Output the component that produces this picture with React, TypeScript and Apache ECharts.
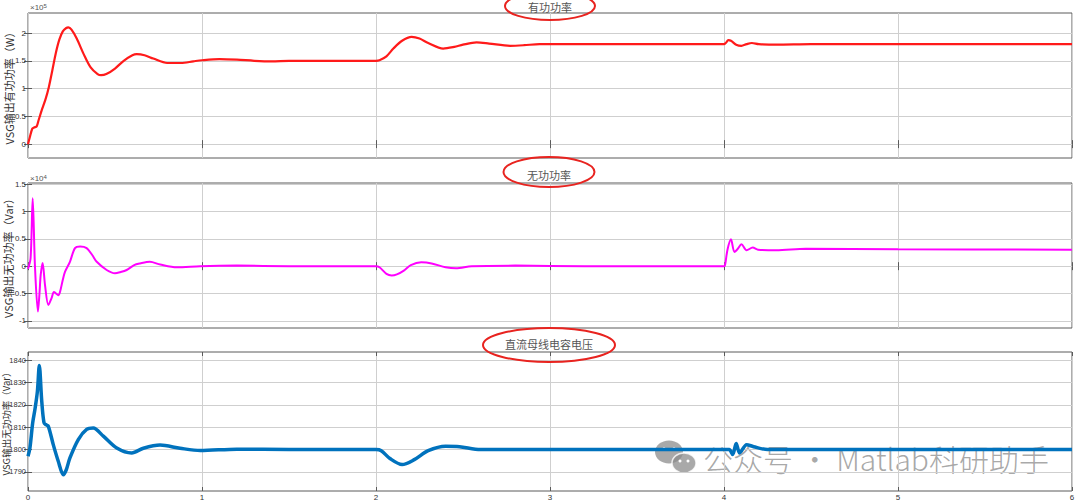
import React, { useEffect, useRef } from "react";
import * as echarts from "echarts";

// ---- Data ----
// Active power, units of 1e5 W
const activeT = [0, 0.01, 0.025, 0.035, 0.05, 0.06, 0.08, 0.1, 0.12, 0.14, 0.16, 0.18, 0.2, 0.22, 0.232, 0.25, 0.28, 0.32, 0.36, 0.4, 0.42, 0.45, 0.5, 0.55, 0.6, 0.625, 0.67, 0.72, 0.8, 0.88, 0.95, 1.0, 1.1, 1.2, 1.3, 1.4, 1.5, 1.7, 2.0, 2.02, 2.06, 2.1, 2.15, 2.205, 2.25, 2.3, 2.386, 2.45, 2.5, 2.578, 2.65, 2.77, 2.85, 2.94, 3.2, 3.6, 4.0, 4.01, 4.025, 4.04, 4.07, 4.1, 4.13, 4.16, 4.2, 4.3, 4.5, 5, 6];
const activeV = [0, 0.12, 0.28, 0.3, 0.32, 0.42, 0.62, 0.8, 1.03, 1.33, 1.64, 1.88, 2.03, 2.09, 2.1, 2.06, 1.9, 1.62, 1.38, 1.26, 1.24, 1.26, 1.36, 1.5, 1.6, 1.62, 1.6, 1.54, 1.46, 1.46, 1.49, 1.51, 1.53, 1.52, 1.5, 1.49, 1.5, 1.5, 1.5, 1.51, 1.58, 1.72, 1.86, 1.93, 1.9, 1.82, 1.72, 1.75, 1.79, 1.83, 1.81, 1.77, 1.78, 1.8, 1.8, 1.8, 1.8, 1.82, 1.87, 1.86, 1.79, 1.77, 1.8, 1.82, 1.8, 1.79, 1.8, 1.8, 1.8];

// Reactive power, units of 1e4 Var
const reactiveT = [0, 0.015, 0.027, 0.04, 0.057, 0.066, 0.073, 0.084, 0.098, 0.117, 0.136, 0.149, 0.161, 0.174, 0.184, 0.2, 0.213, 0.241, 0.27, 0.3, 0.337, 0.37, 0.395, 0.452, 0.5, 0.53, 0.567, 0.61, 0.644, 0.7, 0.76, 0.855, 0.99, 1.2, 1.5, 2.0, 2.02, 2.06, 2.09, 2.12, 2.16, 2.2, 2.26, 2.32, 2.4, 2.46, 2.55, 2.8, 3.2, 4.0, 4.006, 4.02, 4.04, 4.06, 4.08, 4.1, 4.13, 4.165, 4.196, 4.3, 4.47, 5, 6];
const reactiveV = [-0.05, 0.15, 1.24, 0.0, -0.83, -0.5, -0.16, 0.06, -0.35, -0.71, -0.58, -0.47, -0.5, -0.53, -0.47, -0.25, -0.1, 0.08, 0.33, 0.36, 0.33, 0.2, 0.08, -0.07, -0.13, -0.11, -0.07, 0.02, 0.05, 0.08, 0.03, -0.02, 0.0, 0.01, 0.0, 0.0, -0.02, -0.14, -0.17, -0.15, -0.08, 0.02, 0.07, 0.05, -0.02, -0.04, 0.0, 0.01, 0.0, 0.0, 0.02, 0.3, 0.49, 0.26, 0.32, 0.4, 0.29, 0.34, 0.3, 0.29, 0.32, 0.31, 0.3];

// DC bus capacitor voltage
const voltageT = [0, 0.011, 0.027, 0.04, 0.054, 0.065, 0.079, 0.092, 0.105, 0.117, 0.146, 0.174, 0.203, 0.22, 0.241, 0.289, 0.337, 0.375, 0.433, 0.51, 0.596, 0.663, 0.759, 0.874, 0.99, 1.2, 1.5, 2.0, 2.03, 2.08, 2.15, 2.22, 2.3, 2.4, 2.48, 2.6, 3, 4, 4.03, 4.05, 4.07, 4.09, 4.13, 4.17, 4.25, 5, 6];
const voltageV = [1797, 1800.7, 1812, 1818, 1826, 1837.6, 1821.6, 1812, 1811, 1810.4, 1802, 1794.8, 1788.8, 1791, 1796.3, 1804.5, 1809, 1809.6, 1806, 1800.7, 1798.5, 1800.6, 1802, 1800.6, 1799.6, 1800.2, 1800, 1800, 1799.5, 1796, 1793.3, 1795.5, 1799.5, 1801.5, 1801.3, 1800, 1800, 1800, 1800, 1797.8, 1802.7, 1798.5, 1802.2, 1801.3, 1800, 1800, 1800];

const xTicks = [0, 1, 2, 3, 4, 5, 6];
const activeTicks = [0, 0.5, 1, 1.5, 2];
const reactiveTicks = [-1, -0.5, 0, 0.5, 1, 1.5];
const voltageTicks = [1790, 1800, 1810, 1820, 1830, 1840];

const titles = ["有功功率", "无功功率", "直流母线电容电压"];
const yNames = ["VSG输出有功功率（W）", "VSG输出无功功率（Var）", "VSG输出无功功率（Var）"];

const zip = (t: number[], v: number[]) => t.map((x, i) => [x, v[i]]);

const FRAME = "#5a5a5a";
const GRIDC = "#cfcfcf";
const LABEL_FONT = "Liberation Sans";

export default function App() {
  const ref = useRef<HTMLDivElement>(null);
  useEffect(() => {
    if (!ref.current) return;
    const chart = echarts.init(ref.current, undefined, { renderer: "svg" });

    const grids = [
      { left: 28, right: 8, top: 13, height: 145 },
      { left: 28, right: 8, top: 183, height: 145 },
      { left: 28, right: 8, top: 352, height: 139 },
    ].map((g) => ({
      ...g,
      show: true,
      borderColor: FRAME,
      borderWidth: 1,
      backgroundColor: "transparent",
      containLabel: false,
      outerBoundsMode: "none",
    }));

    const yDefs = [
      { min: -0.25, max: 2.36, ticks: activeTicks, gap: 13.5, nameSize: 11, labelSize: 8 },
      { min: -1.13, max: 1.52, ticks: reactiveTicks, gap: 15, nameSize: 11, labelSize: 8 },
      { min: 1781.5, max: 1843.6, ticks: voltageTicks, gap: 17, nameSize: 9.5, labelSize: 7.5 },
    ];

    const xAxis: any[] = [];
    const yAxis: any[] = [];
    for (let i = 0; i < 3; i++) {
      for (const pos of ["bottom", "top"]) {
        xAxis.push({
          type: "value",
          gridIndex: i,
          position: pos,
          min: 0,
          max: 6,
          interval: 1,
          axisLine: { show: false },
          axisTick: { show: true, inside: true, length: 4, lineStyle: { color: FRAME } },
          axisLabel: {
            show: pos === "bottom" && i === 2,
            fontSize: 8,
            color: "#333",
            margin: 2,
            fontFamily: LABEL_FONT,
            customValues: xTicks,
            formatter: (v: number) => String(v),
          },
          splitLine: { show: pos === "bottom", lineStyle: { color: GRIDC, width: 1 } },
        });
      }
      const d = yDefs[i];
      for (const pos of ["left", "right"]) {
        yAxis.push({
          type: "value",
          gridIndex: i,
          position: pos,
          min: d.min,
          max: d.max,
          name: pos === "left" ? yNames[i] : "",
          nameLocation: "middle",
          nameGap: d.gap,
          nameMoveOverlap: false,
          nameTextStyle: { fontSize: d.nameSize, color: "#333", fontFamily: "Noto Sans CJK SC" },
          axisLine: { show: false },
          axisTick: { show: true, inside: true, length: 4, lineStyle: { color: FRAME }, customValues: d.ticks },
          axisLabel: {
            show: pos === "left",
            fontSize: d.labelSize,
            color: "#333",
            margin: 2,
            fontFamily: LABEL_FONT,
            customValues: d.ticks,
            formatter: (v: number) => String(v),
          },
          splitLine: { show: pos === "left", lineStyle: { color: GRIDC, width: 1 } },
        });
      }
    }

    const series = [
      { data: zip(activeT, activeV), color: "#ff1a1a", width: 2.2 },
      { data: zip(reactiveT, reactiveV), color: "#ff00ff", width: 2 },
      { data: zip(voltageT, voltageV), color: "#0072BD", width: 3.5 },
    ].map((s, i) => ({
      type: "line",
      xAxisIndex: i * 2,
      yAxisIndex: i * 2,
      data: s.data,
      showSymbol: false,
      smooth: 0.3,
      lineStyle: { color: s.color, width: s.width },
      itemStyle: { color: s.color },
      z: 3,
    }));

    const ellipse = (cx: number, cy: number, rx: number, ry: number) => ({
      type: "ellipse",
      shape: { cx, cy, rx, ry },
      style: { fill: "none", stroke: "#e8231f", lineWidth: 2 },
      z: 10,
    });
    const titleText = (x: number, y: number, text: string) => ({
      type: "text",
      x,
      y,
      style: {
        text,
        fill: "#555",
        fontSize: 11,
        fontFamily: "Noto Sans CJK SC",
        align: "center",
        verticalAlign: "middle",
      },
      z: 11,
    });
    const expText = (x: number, y: number, e: string) => ({
      type: "text",
      x,
      y,
      style: {
        text: "{a|×10}{b|" + e + "}",
        rich: {
          a: { fontSize: 8, fill: "#555", fontFamily: LABEL_FONT, verticalAlign: "bottom" },
          b: { fontSize: 6, fill: "#555", fontFamily: LABEL_FONT, verticalAlign: "top" },
        },
        verticalAlign: "middle",
      },
      z: 11,
    });

    const graphic: any[] = [
      ellipse(550, 6, 45, 14),
      titleText(550, 7, titles[0]),
      ellipse(549, 172, 45.5, 15),
      titleText(549, 175, titles[1]),
      ellipse(549, 345, 66, 17),
      titleText(549, 344, titles[2]),
      expText(30, 7, "5"),
      expText(30, 178, "4"),
      // watermark: WeChat icon + text
      {
        type: "group",
        z: 20,
        children: [
          { type: "ellipse", shape: { cx: 669, cy: 452, rx: 14, ry: 11.5 }, style: { fill: "rgba(140,140,140,0.75)" } },
          { type: "ellipse", shape: { cx: 684, cy: 463, rx: 12, ry: 10 }, style: { fill: "rgba(140,140,140,0.75)", stroke: "rgba(255,255,255,0.8)", lineWidth: 1.5 } },
          { type: "circle", shape: { cx: 664, cy: 449, r: 1.8 }, style: { fill: "#fff" } },
          { type: "circle", shape: { cx: 674, cy: 449, r: 1.8 }, style: { fill: "#fff" } },
          { type: "circle", shape: { cx: 680, cy: 461, r: 1.5 }, style: { fill: "#fff" } },
          { type: "circle", shape: { cx: 688, cy: 461, r: 1.5 }, style: { fill: "#fff" } },
          {
            type: "text",
            x: 703,
            y: 458,
            style: {
              text: "公众号 · Matlab科研助手",
              fill: "rgba(130,130,130,0.7)",
              fontSize: 30,
              fontFamily: "Noto Sans CJK SC",
              fontWeight: 300,
              verticalAlign: "middle",
              align: "left",
            },
          },
        ],
      },
    ];

    chart.setOption({
      animation: false,
      backgroundColor: "#ffffff",
      grid: grids,
      xAxis,
      yAxis,
      series,
      graphic,
    } as any);

    return () => chart.dispose();
  }, []);

  return (
    <div
      ref={ref}
      style={{ position: "absolute", left: 0, top: 0, width: 1080, height: 501, background: "#fff" }}
    />
  );
}
